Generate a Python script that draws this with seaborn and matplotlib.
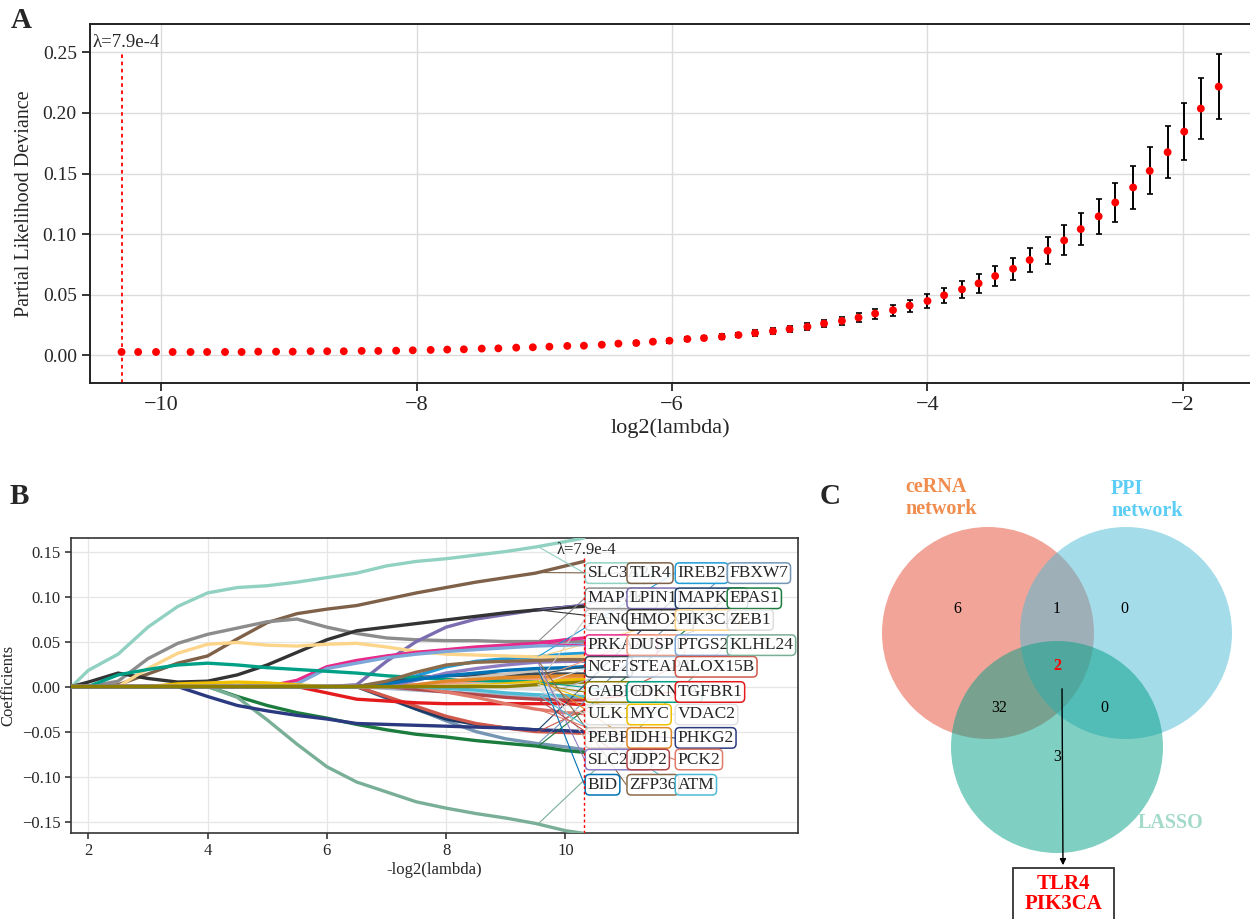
import numpy as np
import pandas as pd
import matplotlib
matplotlib.use("Agg")
import matplotlib.pyplot as plt
import seaborn as sns
from matplotlib.patches import Circle, Rectangle, FancyArrowPatch

# =========================
# PANEL A DATA (cv curve)
# =========================
log2_lambda = [-10.31, -10.18, -10.04, -9.91, -9.77, -9.64, -9.50, -9.37, -9.24, -9.10,
               -8.97, -8.83, -8.70, -8.57, -8.43, -8.30, -8.16, -8.03, -7.89, -7.76,
               -7.63, -7.49, -7.36, -7.22, -7.09, -6.96, -6.82, -6.69, -6.55, -6.42,
               -6.28, -6.15, -6.02, -5.88, -5.75, -5.61, -5.48, -5.35, -5.21, -5.08,
               -4.94, -4.81, -4.67, -4.54, -4.41, -4.27, -4.14, -4.00, -3.87, -3.73,
               -3.60, -3.47, -3.33, -3.20, -3.06, -2.93, -2.80, -2.66, -2.53, -2.39,
               -2.26, -2.12, -1.99, -1.86, -1.72]
deviance = [0.0027, 0.0027, 0.0027, 0.0027, 0.0027, 0.0027, 0.0027, 0.0027, 0.0030, 0.0030,
            0.0030, 0.0033, 0.0033, 0.0033, 0.0036, 0.0036, 0.0038, 0.0041, 0.0044, 0.0047,
            0.0049, 0.0055, 0.0057, 0.0063, 0.0066, 0.0071, 0.0077, 0.0079, 0.0087, 0.0096,
            0.0101, 0.0112, 0.0120, 0.0134, 0.0142, 0.0153, 0.0167, 0.0183, 0.0199, 0.0216,
            0.0235, 0.0262, 0.0284, 0.0311, 0.0344, 0.0372, 0.0410, 0.0448, 0.0495, 0.0544,
            0.0593, 0.0654, 0.0714, 0.0786, 0.0863, 0.0948, 0.1041, 0.1146, 0.1261, 0.1385,
            0.1522, 0.1676, 0.1846, 0.2036, 0.2217]
deviance_se = [0.0003, 0.0003, 0.0003, 0.0003, 0.0003, 0.0003, 0.0003, 0.0003, 0.0004, 0.0004,
               0.0004, 0.0004, 0.0004, 0.0004, 0.0005, 0.0005, 0.0005, 0.0005, 0.0006, 0.0006,
               0.0006, 0.0007, 0.0007, 0.0008, 0.0008, 0.0009, 0.0010, 0.0010, 0.0011, 0.0012,
               0.0013, 0.0014, 0.0015, 0.0016, 0.0017, 0.0019, 0.0020, 0.0022, 0.0024, 0.0027,
               0.0029, 0.0031, 0.0034, 0.0037, 0.0041, 0.0046, 0.0050, 0.0055, 0.0063, 0.0070,
               0.0078, 0.0084, 0.0092, 0.0102, 0.0110, 0.0124, 0.0135, 0.0147, 0.0162, 0.0177,
               0.0194, 0.0213, 0.0234, 0.0254, 0.0269]
lambda_min = 7.9e-4
lambda_text = "\u03bb=7.9e-4"

# =========================
# PANEL B DATA (coefficient paths)
# =========================
path_knots = [1.72, 2.0, 2.5, 3.0, 3.5, 4.0, 4.5, 5.0, 5.5, 6.0,
              6.5, 7.0, 7.5, 8.0, 8.5, 9.0, 9.5, 10.0, 10.31]

genes = ["SLC3A2", "TLR4", "IREB2", "FBXW7",
         "MAP3K5", "LPIN1", "MAPK14", "EPAS1",
         "FANCD2", "HMOX1", "PIK3CA", "ZEB1",
         "PRKAA1", "DUSP1", "PTGS2", "KLHL24",
         "NCF2", "STEAP3", "ALOX15B",
         "GABPB1", "CDKN1A", "TGFBR1",
         "ULK1", "MYC", "VDAC2",
         "PEBP1", "IDH1", "PHKG2",
         "SLC2A1", "JDP2", "PCK2",
         "BID", "ZFP36", "ATM"]

gene_colors = ["#91D1C2", "#7E6148", "#1F9BD7", "#7496B4",
               "#8C8C8C", "#7B6DB0", "#1B3A66", "#1B7C3D",
               "#C9C9C9", "#333333", "#FDD58A", "#DDDDDD",
               "#E7298A", "#F39B7F", "#7DA7D9", "#79AF97",
               "#3B4A55", "#A6B8CC", "#D0584A",
               "#8B7E00", "#00A087", "#E41A1C",
               "#DDDDDD", "#EFC000", "#E2E2E2",
               "#CFC4B8", "#E18727", "#2B3A80",
               "#8E7CC3", "#B2474A", "#E07B6B",
               "#0072B5", "#8B6B4A", "#4DBBD5"]

coef_paths = [
    [0, .018, .036, .066, .089, .104, .110, .112, .116, .121, .126, .134, .139, .142, .146, .150, .155, .161, .165],  # SLC3A2
    [0, 0, .002, .014, .026, .034, .053, .071, .081, .086, .090, .097, .104, .110, .116, .121, .126, .134, .139],      # TLR4
    [0, 0, 0, 0, 0, 0, 0, 0, 0, 0, 0, .003, .012, .022, .028, .031, .033, .036, .037],                                 # IREB2
    [0, 0, 0, 0, 0, 0, 0, 0, 0, 0, 0, -.013, -.025, -.038, -.050, -.058, -.063, -.067, -.070],                         # FBXW7
    [0, 0, .006, .031, .048, .058, .065, .072, .075, .066, .059, .054, .052, .051, .051, .050, .050, .050, .050],      # MAP3K5
    [0, 0, 0, 0, 0, 0, 0, 0, 0, 0, .002, .028, .050, .066, .075, .080, .085, .088, .090],                              # LPIN1
    [0, 0, 0, 0, 0, 0, 0, 0, 0, 0, 0, -.012, -.025, -.036, -.042, -.046, -.048, -.050, -.051],                         # MAPK14
    [0, 0, 0, 0, 0, 0, -.011, -.021, -.029, -.035, -.042, -.048, -.053, -.056, -.060, -.063, -.066, -.071, -.073],     # EPAS1
    [0, 0, 0, 0, 0, 0, 0, 0, 0, 0, 0, 0, 0, .002, .003, .004, .004, .005, .005],                                       # FANCD2
    [0, .005, .015, .009, .005, .006, .013, .024, .038, .052, .062, .066, .070, .074, .078, .082, .085, .088, .089],   # HMOX1
    [0, 0, 0, .020, .037, .047, .049, .046, .045, .047, .048, .044, .039, .036, .035, .034, .033, .033, .034],         # PIK3CA
    [0, 0, 0, 0, 0, 0, 0, 0, 0, 0, 0, 0, 0, 0, 0, .001, .002, .002, .002],                                             # ZEB1
    [0, 0, 0, 0, 0, 0, 0, 0, .007, .022, .029, .034, .038, .041, .044, .046, .048, .052, .054],                        # PRKAA1
    [0, 0, 0, 0, 0, 0, 0, 0, 0, 0, 0, 0, 0, .004, .006, .008, .009, .010, .010],                                       # DUSP1
    [0, 0, 0, 0, 0, 0, 0, 0, .003, .020, .026, .032, .036, .039, .041, .043, .045, .046, .047],                        # PTGS2
    [0, 0, 0, 0, 0, 0, -.012, -.037, -.064, -.089, -.106, -.117, -.128, -.135, -.141, -.146, -.152, -.160, -.163],     # KLHL24
    [0, 0, 0, 0, 0, 0, 0, 0, 0, 0, 0, .004, .010, .012, .013, .013, .014, .014, .014],                                 # NCF2
    [0, 0, 0, 0, 0, 0, 0, 0, 0, 0, 0, -.002, -.004, -.006, -.008, -.010, -.011, -.012, -.012],                         # STEAP3
    [0, 0, 0, 0, 0, 0, 0, 0, 0, 0, 0, -.011, -.022, -.033, -.041, -.046, -.050, -.051, -.052],                         # ALOX15B
    [0, 0, 0, 0, 0, 0, 0, 0, 0, 0, 0, 0, 0, 0, 0, 0, .002, .004, .005],                                                # GABPB1
    [0, 0, .013, .019, .024, .026, .024, .021, .019, .017, .015, .012, .010, .008, .007, .006, .005, .005, .005],      # CDKN1A
    [0, 0, 0, 0, 0, 0, 0, 0, 0, -.007, -.014, -.016, -.018, -.019, -.019, -.019, -.019, -.019, -.020],                 # TGFBR1
    [0, 0, 0, 0, 0, 0, 0, 0, 0, 0, 0, 0, 0, 0, -.001, -.002, -.003, -.004, -.004],                                     # ULK1
    [0, 0, 0, 0, .003, .004, .005, .004, .002, 0, 0, 0, 0, 0, .001, .003, .005, .007, .008],                           # MYC
    [0, 0, 0, 0, 0, 0, 0, 0, 0, 0, 0, 0, 0, 0, 0, .001, .002, .003, .003],                                             # VDAC2
    [0, 0, 0, 0, 0, 0, 0, 0, 0, 0, 0, 0, .002, .006, .010, .014, .018, .021, .022],                                    # PEBP1
    [0, 0, 0, 0, 0, 0, 0, 0, 0, 0, 0, 0, .002, .006, .008, .010, .011, .012, .012],                                    # IDH1
    [0, 0, 0, 0, 0, -.011, -.021, -.027, -.032, -.036, -.041, -.042, -.043, -.044, -.045, -.046, -.048, -.049, -.050], # PHKG2
    [0, 0, 0, 0, 0, 0, 0, 0, 0, 0, 0, 0, .007, .015, .020, .024, .027, .028, .028],                                    # SLC2A1
    [0, 0, 0, 0, 0, 0, 0, 0, 0, 0, 0, 0, -.003, -.006, -.009, -.012, -.014, -.015, -.015],                             # JDP2
    [0, 0, 0, 0, 0, 0, 0, 0, 0, 0, 0, 0, 0, -.006, -.012, -.019, -.025, -.029, -.030],                                 # PCK2
    [0, 0, 0, 0, 0, 0, 0, 0, 0, 0, 0, .003, .008, .012, .015, .018, .020, .021, .022],                                 # BID
    [0, 0, 0, 0, 0, 0, 0, 0, 0, 0, 0, .006, .016, .024, .027, .028, .029, .030, .030],                                 # ZFP36
    [0, 0, 0, 0, 0, 0, 0, 0, 0, 0, 0, 0, 0, -.002, -.004, -.007, -.009, -.010, -.011],                                 # ATM
]

# labels: genes per row, left to right
label_row_sizes = [4, 4, 4, 4, 3, 3, 3, 3, 3, 3]
label_col_x = [10.32, 11.02, 11.83, 12.70]
label_row_y = [0.126, 0.098, 0.074, 0.046, 0.022, -0.006, -0.031, -0.057, -0.081, -0.109]

# =========================
# PANEL C DATA (venn)
# =========================
set_names = ["ceRNA\nnetwork", "PPI\nnetwork", "LASSO"]
set_colors = ["#E64B35", "#4DBBD5", "#00A087"]
set_text_colors = ["#F08C4E", "#5CCDF4", "#A3DACA"]
region_counts = [6, 1, 0, 32, 2, 0, 3]   # c, c&p, p, c&l, c&p&l, p&l, l
hub_genes = ["TLR4", "PIK3CA"]

# =========================
# STYLE
# =========================
sns.set_style("ticks")
plt.rcParams["font.family"] = ["Liberation Serif", "DejaVu Serif"]
plt.rcParams["axes.unicode_minus"] = True

fig = plt.figure(figsize=(12.5, 9.19), dpi=100)
W, H = 1250, 919


def px_axes(x0, y0, x1, y1):
    return fig.add_axes([x0 / W, 1 - y1 / H, (x1 - x0) / W, (y1 - y0) / H])


# =========================
# PANEL A
# =========================
axA = px_axes(90, 24, 1250, 383)
axA.errorbar(log2_lambda, deviance, yerr=deviance_se, fmt="none", ecolor="black",
             elinewidth=1.4, capsize=2.2, capthick=1.2, zorder=2)
sns.scatterplot(x=log2_lambda, y=deviance, color="#FF0000", s=32, edgecolor="none",
                ax=axA, zorder=3)
lx = np.log2(lambda_min)
axA.plot([lx, lx], [-0.0229, 0.251], color="#FF0000", ls=(0, (2, 2)), lw=1.3, zorder=1)
axA.text(lx + 0.03, 0.258, lambda_text, ha="center", va="center", fontsize=13.5)
axA.set_xlim(-10.557, -1.475)
axA.set_ylim(-0.0229, 0.2734)
axA.set_xticks([-10, -8, -6, -4, -2])
axA.set_yticks([0.00, 0.05, 0.10, 0.15, 0.20, 0.25])
axA.set_yticklabels(["0.00", "0.05", "0.10", "0.15", "0.20", "0.25"])
axA.grid(True, color="#DCDCDC", lw=1)
axA.set_axisbelow(True)
axA.tick_params(axis="x", labelsize=16, length=6, width=1.3)
axA.tick_params(axis="y", labelsize=14, length=6, width=1.3)
axA.set_xlabel("log2(lambda)", fontsize=16, labelpad=2)
axA.set_ylabel("Partial Likelihood Deviance", fontsize=14.5, labelpad=6)
for s in ["left", "bottom", "top"]:
    axA.spines[s].set_linewidth(1.4)
    axA.spines[s].set_color("#222222")
axA.spines["right"].set_visible(False)

# =========================
# PANEL B
# =========================
axB = px_axes(71, 538, 798, 833)
rows = []
for g, path in zip(genes, coef_paths):
    for xk, c in zip(path_knots, path):
        rows.append({"gene": g, "x": xk, "coef": c})
df_b = pd.DataFrame(rows)
draw_order = [g for g in genes if g != "GABPB1"] + ["GABPB1"]
palette = dict(zip(genes, gene_colors))
sns.lineplot(data=df_b, x="x", y="coef", hue="gene", hue_order=draw_order,
             palette=palette, linewidth=2.4, legend=False, sort=False,
             estimator=None, ax=axB, zorder=3)

# label boxes + connectors
k = 0
label_pos = {}
for r, n in enumerate(label_row_sizes):
    for c in range(n):
        label_pos[genes[k]] = (label_col_x[c], label_row_y[r])
        k += 1
for g, col, path in zip(genes, gene_colors, coef_paths):
    lx0, ly0 = label_pos[g]
    y_start = np.interp(9.54, path_knots, path)
    axB.plot([9.54, lx0], [y_start, ly0], color=col, lw=0.8, zorder=4)
for c in range(4):
    for g, col in zip(genes, gene_colors):
        lx0, ly0 = label_pos[g]
        if lx0 != label_col_x[c]:
            continue
        axB.text(lx0 + 0.05, ly0, g, fontsize=12.5, ha="left", va="center", zorder=5 + c,
                 bbox=dict(boxstyle="round,pad=0.13,rounding_size=0.25", fc=(1, 1, 1, 0.85),
                           ec=col, lw=1.1))

lb = -np.log2(lambda_min)
axB.plot([lb, lb], [-0.1626, 0.145], color="#FF0000", ls=(0, (2, 2)), lw=1.0, zorder=6)
axB.text(lb + 0.05, 0.152, lambda_text, ha="center", va="center", fontsize=12, zorder=10)
axB.set_xlim(1.71, 13.9)
axB.set_ylim(-0.1626, 0.165)
axB.set_xticks([2, 4, 6, 8, 10])
axB.set_yticks([-0.15, -0.10, -0.05, 0.00, 0.05, 0.10, 0.15])
axB.set_yticklabels(["\u22120.15", "\u22120.10", "\u22120.05", "0.00", "0.05", "0.10", "0.15"])
axB.grid(True, color="#E6E6E6", lw=0.9)
axB.set_axisbelow(True)
axB.tick_params(labelsize=12, length=4, width=1.1)
axB.set_xlabel("-log2(lambda)", fontsize=12, labelpad=2)
axB.set_ylabel("Coefficients", fontsize=12, labelpad=4)
for s in axB.spines.values():
    s.set_linewidth(1.2)
    s.set_color("#333333")

# =========================
# PANEL C
# =========================
axC = px_axes(830, 480, 1250, 919)
axC.set_xlim(830, 1250)
axC.set_ylim(919, 480)
axC.axis("off")
centers = [(988, 633), (1126, 633), (1057, 747)]
for (cx, cy), col in zip(centers, set_colors):
    axC.add_patch(Circle((cx, cy), 106, fc=col, ec="none", alpha=0.5))
name_pos = [(905, 498, "left"), (1111, 500, "left"), (1138, 823, "left")]
for (tx, ty, ha), name, col in zip(name_pos, set_names, set_text_colors):
    axC.text(tx, ty, name, color=col, fontsize=14.5, fontweight="bold", ha=ha,
             va="center", linespacing=1.15)
count_pos = [(957, 609), (1057, 609), (1124, 609), (999, 708), (1057, 666), (1104, 708), (1057, 757)]
for (tx, ty), n in zip(count_pos, region_counts):
    center = (tx, ty) == (1057, 666)
    axC.text(tx, ty, str(n), ha="center", va="center", fontsize=11.5,
             color="#FF0000" if center else "black",
             fontweight="bold" if center else "normal")
axC.add_patch(FancyArrowPatch((1062, 686), (1063, 868), arrowstyle="-|>",
                              mutation_scale=9, lw=1.0, color="black"))
axC.add_patch(Rectangle((1013, 868), 101, 70, fc="white", ec="#333333", lw=1.3))
axC.text(1063.5, 894, "\n".join(hub_genes), ha="center", va="center", fontsize=15,
         fontweight="bold", color="#FF0000", linespacing=1.05)

# panel letters
for tx, ty, letter in [(21, 21, "A"), (19, 497, "B"), (830, 497, "C")]:
    fig.text(tx / W, 1 - ty / H, letter, fontsize=21, fontweight="bold",
             ha="center", va="center")

fig.savefig("out.png", dpi=100)
